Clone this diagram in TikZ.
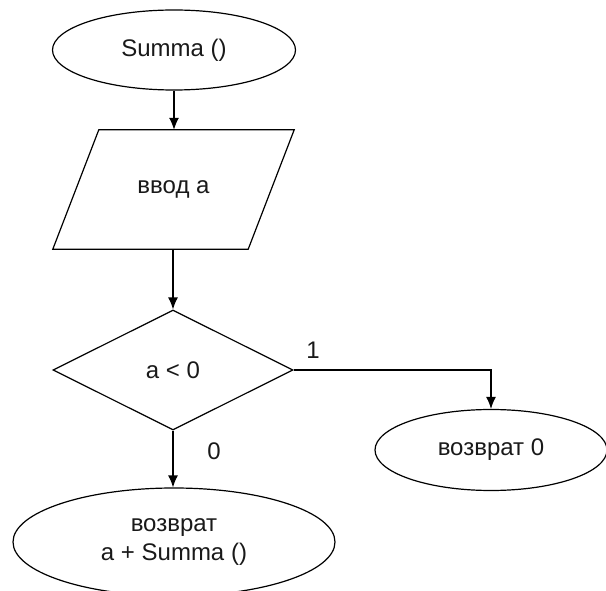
\documentclass[tikz,border=0pt]{standalone}
\usepackage{fontspec}
\setmainfont{Liberation Sans}
\usetikzlibrary{shapes.geometric,arrows.meta}
\begin{document}
\begin{tikzpicture}[x=1pt,y=1pt,
  every node/.style={font=\fontsize{24}{29}\selectfont, text=black!90},
  shapeline/.style={draw=black, line width=1.2pt, inner sep=0pt},
  terminal/.style={shapeline, ellipse},
  iobox/.style={rectangle, inner sep=0pt},
  decision/.style={shapeline, diamond},
  flow/.style={draw=black, line width=1.3pt, -{Latex[length=12pt,width=10pt]}},
  branch/.style={inner sep=0pt}]
\useasboundingbox (0,0) rectangle (606,590);

\node[terminal, minimum width=243pt, minimum height=80pt] (start) at (174,540) {Summa ()};
\node[iobox, minimum width=241pt, minimum height=119pt] (input) at (173.5,400.5) {ввод а};
% slanted input/output box around the text node
\draw[draw=black, line width=1.2pt, line join=miter]
  ([xshift=46pt]input.north west) -- (input.north east)
  -- ([xshift=-46pt]input.south east) -- (input.south west) -- cycle;
\node[decision, minimum width=240pt, minimum height=120pt] (test) at (173,220) {a < 0};
\node[terminal, minimum width=232pt, minimum height=81pt] (retzero) at (491,140) {возврат 0};
\node[terminal, minimum width=322pt, minimum height=108pt, align=center] (retsum) at (174,48) {возврат\\a + Summa ()};

\node[branch] (yes) at (313,240) {1};
\node[branch] (no) at (214,139) {0};

\draw[flow] (start.south) -- (input.north -| start.south);
\draw[flow] (input.south -| test.north) -- (test.north);
\draw[flow] (test.east) -| (retzero.north);
\draw[flow] (test.south) -- (retsum.north -| test.south);
\end{tikzpicture}
\end{document}
